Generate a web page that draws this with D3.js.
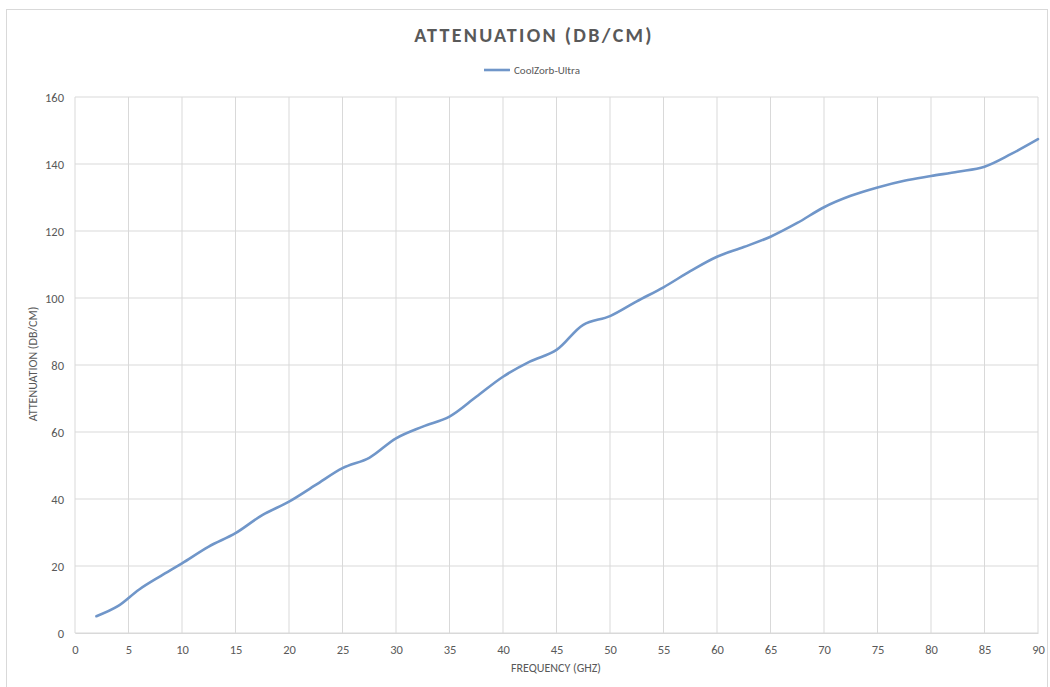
<!DOCTYPE html>
<html><head><meta charset="utf-8">
<script src="https://cdn.jsdelivr.net/npm/d3@7"></script>
<style>
body{margin:0;background:#fff;}
text{font-family:Carlito,"Liberation Sans Narrow",Lato,"Open Sans",sans-serif;}
</style></head>
<body><svg id="c" width="1050" height="687"></svg>
<script>
const freq = [2,4,6,8,10,12.5,15,17.5,20,22.5,25,27.5,30,32.5,35,37.5,40,42.5,45,47.5,50,52.5,55,57.5,60,62.5,65,67.5,70,72.5,75,77.5,80,82.5,85,87.5,90];
const atten = [5,8,13,17,20.8,25.8,29.8,35.2,39.2,44.2,49.2,52.3,58.1,61.6,64.6,70.5,76.5,81,84.5,92,94.6,99,103.2,108,112.3,115.2,118.3,122.4,127.1,130.5,133,135,136.4,137.7,139.2,143,147.4];
const xTicks = d3.range(0,91,5);
const yTicks = d3.range(0,161,20);
const seriesName = "CoolZorb-Ultra";
const title = "ATTENUATION (DB/CM)";
const xTitle = "FREQUENCY (GHZ)";
const yTitle = "ATTENUATION (DB/CM)";

const svg = d3.select("#c");
const txt = "#595959", grid = "#d9d9d9", lineC = "#7096c9";
svg.append("rect").attr("x",6.5).attr("y",9.5).attr("width",1041).attr("height",690).attr("fill","none").attr("stroke","#d9d9d9");

const x = d3.scaleLinear().domain([0,90]).range([75,1038]);
const y = d3.scaleLinear().domain([0,160]).range([633,97]);

const g = svg.append("g");
g.selectAll(".vg").data(xTicks).join("line").attr("x1",d=>x(d)).attr("x2",d=>x(d)).attr("y1",y(160)).attr("y2",y(0)).attr("stroke",grid).attr("stroke-width",1);
g.selectAll(".hg").data(yTicks).join("line").attr("x1",x(0)).attr("x2",x(90)).attr("y1",d=>y(d)).attr("y2",d=>y(d)).attr("stroke",grid).attr("stroke-width",1);

const xa = svg.append("g").attr("transform",`translate(0,${y(0)})`).call(d3.axisBottom(x).tickValues(xTicks).tickSize(0).tickPadding(12));
xa.select(".domain").attr("stroke",grid);
xa.selectAll("text").attr("fill",txt).style("font-size","12.5px");
const ya = svg.append("g").attr("transform",`translate(${x(0)},0)`).call(d3.axisLeft(y).tickValues(yTicks).tickSize(0).tickPadding(11));
ya.select(".domain").remove();
ya.selectAll("text").attr("fill",txt).style("font-size","12.5px");

const line = d3.line().x((d,i)=>x(freq[i])).y(d=>y(d)).curve(d3.curveCatmullRom.alpha(0.5));
svg.append("path").datum(atten).attr("d",line).attr("fill","none").attr("stroke",lineC).attr("stroke-width",2.6).attr("stroke-linecap","round");

svg.append("text").attr("x",534).attr("y",42).attr("text-anchor","middle").attr("fill",txt).style("font-size","20px").style("font-weight","bold").style("letter-spacing","2.3px").text(title);
svg.append("line").attr("x1",484).attr("x2",510).attr("y1",70).attr("y2",70).attr("stroke",lineC).attr("stroke-width",2.6);
svg.append("text").attr("x",514).attr("y",74).attr("fill",txt).style("font-size","11px").text(seriesName);
svg.append("text").attr("x",556).attr("y",672).attr("text-anchor","middle").attr("fill",txt).style("font-size","12px").text(xTitle);
svg.append("text").attr("transform",`translate(37,364) rotate(-90)`).attr("text-anchor","middle").attr("fill",txt).style("font-size","12px").text(yTitle);
</script></body></html>
